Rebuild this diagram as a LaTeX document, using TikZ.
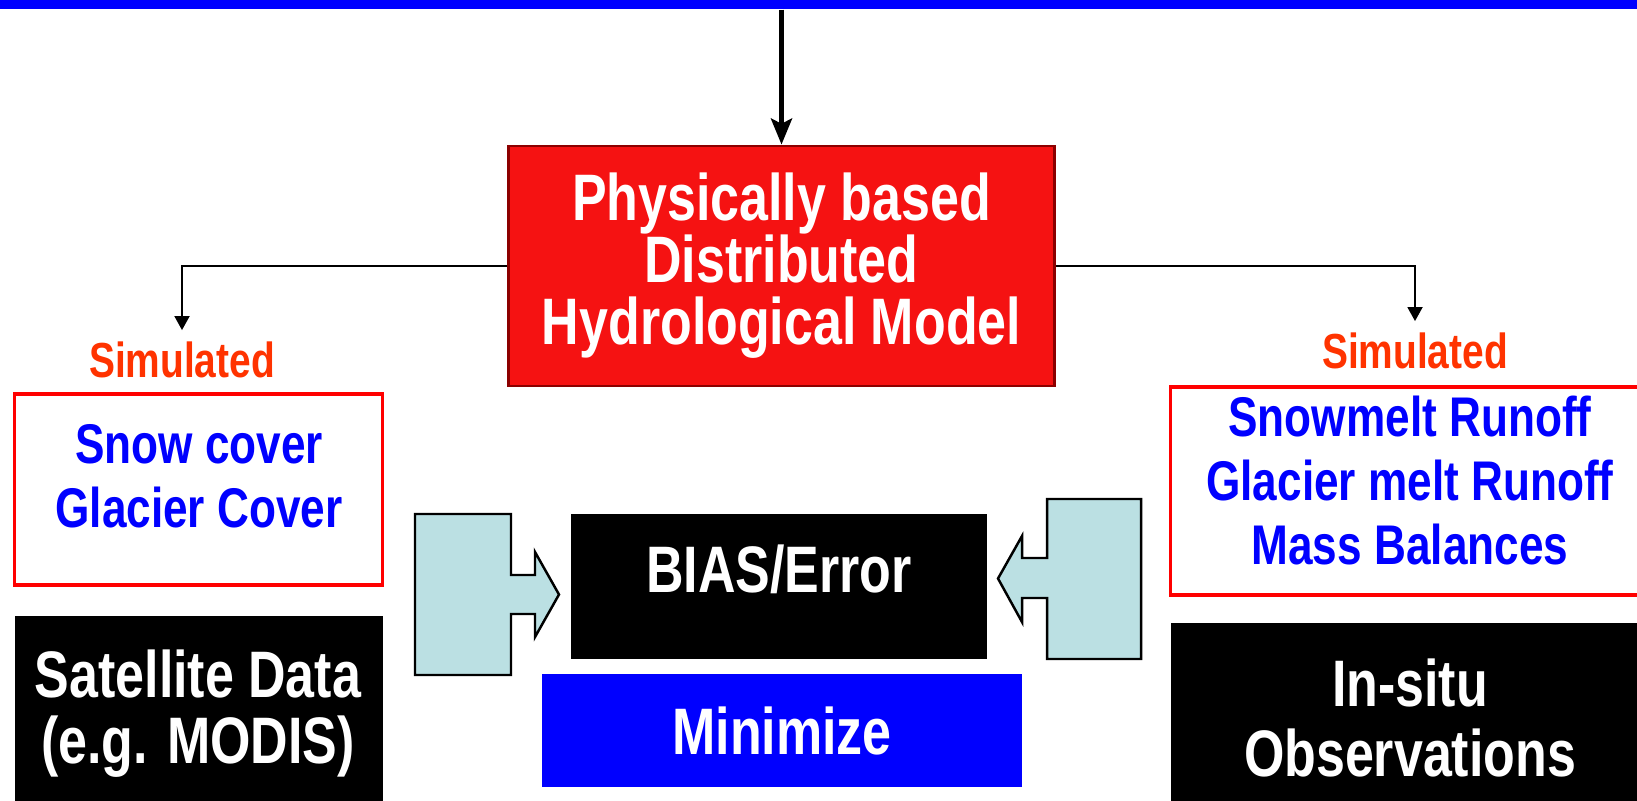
\documentclass[tikz,border=0pt]{standalone}
\usepackage{fontspec}
\newfontfamily\diagfont{Liberation Sans}[FakeStretch=0.79]
\usepackage{xcolor}
\usepackage{tikz}
\usetikzlibrary{arrows.meta}
\definecolor{simorange}{RGB}{255,51,0}
\definecolor{arrowcyan}{RGB}{187,224,227}
\definecolor{modelred}{RGB}{245,18,18}
\newcommand{\boldfont}[2]{\diagfont\bfseries\fontsize{#1}{#2}\selectfont}

\begin{document}
\begin{tikzpicture}[x=0.01cm,y=-0.01cm,
  conn/.style={line width=0.45pt,-{Triangle[length=4pt,width=4.3pt]}},
  mainarrow/.style={line width=1.3pt,-{Stealth[length=7.4pt,width=6pt,inset=1.5pt]}},
  simlabel/.style={text=simorange,font=\boldfont{14}{16},inner sep=0pt,outer sep=3.2pt},
  simbox/.style={draw=red,line width=0.9pt,inner sep=0pt},
  bluetext/.style={text=blue,font=\boldfont{15.9}{18.2},align=center,inner sep=0pt},
  whitetext/.style={text=white,align=center,inner sep=0pt},
  blackbox/.style={fill=black,inner sep=0pt},
  blockarrow/.style={draw=black,fill=arrowcyan,line width=0.7pt,line join=miter}]
  \useasboundingbox (0,0) rectangle (1637,800);
  \clip (0,0) rectangle (1637,800);
  % source bar and model
  \node[fill=blue,minimum width=16.37cm,minimum height=0.09cm,inner sep=0pt] (bar) at (818.5,4.5) {};
  \node[draw=red!55!black,line width=0.8pt,fill=modelred,minimum width=5.45cm,minimum height=2.40cm,
        whitetext,font=\boldfont{18.7}{17.6}] (model) at (781.5,266) {Physically based\\Distributed\\Hydrological Model};
  \draw[mainarrow] (bar.south -| model.north) -- (model.north);
  % simulated outputs
  \node[simlabel,anchor=base] (simL) at (182,377) {Simulated};
  \node[simlabel,anchor=base] (simR) at (1415,368) {Simulated};
  \draw[conn] (model.west) -| (simL.north);
  \draw[conn] (model.east) -| (simR.north);
  \node[simbox,minimum width=3.67cm,minimum height=1.91cm] (simcov) at (198.5,489.5) {};
  \node[bluetext] (simcovtxt) at (199,476) {Snow cover\\Glacier Cover};
  \node[simbox,minimum width=4.74cm,minimum height=2.08cm] (simrun) at (1408,491) {};
  \node[bluetext] (simruntxt) at (1410,481) {Snowmelt Runoff\\Glacier melt Runoff\\Mass Balances};
  % observations
  \node[blackbox,minimum width=3.68cm,minimum height=1.94cm] (sat) at (199,713) {};
  \node[whitetext,font=\boldfont{18.7}{18.8}] (sattxt) at (198,714) {Satellite Data\\(e.g. MODIS)};
  \node[blackbox,minimum width=4.74cm,minimum height=1.87cm] (insitu) at (1408,716.5) {};
  \node[whitetext,font=\boldfont{18.7}{20}] (insitutxt) at (1410,718) {In-situ\\Observations};
  % comparison
  \node[blackbox,minimum width=4.16cm,minimum height=1.45cm] (err) at (779,586.5) {};
  \node[whitetext,font=\boldfont{18.7}{20}] (errtxt) at (779,569) {BIAS/Error};
  \node[fill=blue,minimum width=4.80cm,minimum height=1.13cm,inner sep=0pt,
        whitetext,font=\boldfont{18.7}{20}] (minz) at (782,730.5) {Minimize};
  % block arrows into the error box
  \draw[blockarrow] (415,514) -- (511,514) -- (511,575) -- (535,575) -- (535,552) -- (559,594.5)
    -- (535,637) -- (535,614) -- (511,614) -- (511,675) -- (415,675) -- cycle;
  \draw[blockarrow] (1141,499) -- (1047,499) -- (1047,558) -- (1022,558) -- (1022,536) -- (998,578.5)
    -- (1022,622) -- (1022,598) -- (1047,598) -- (1047,659) -- (1141,659) -- cycle;
\end{tikzpicture}
\end{document}
